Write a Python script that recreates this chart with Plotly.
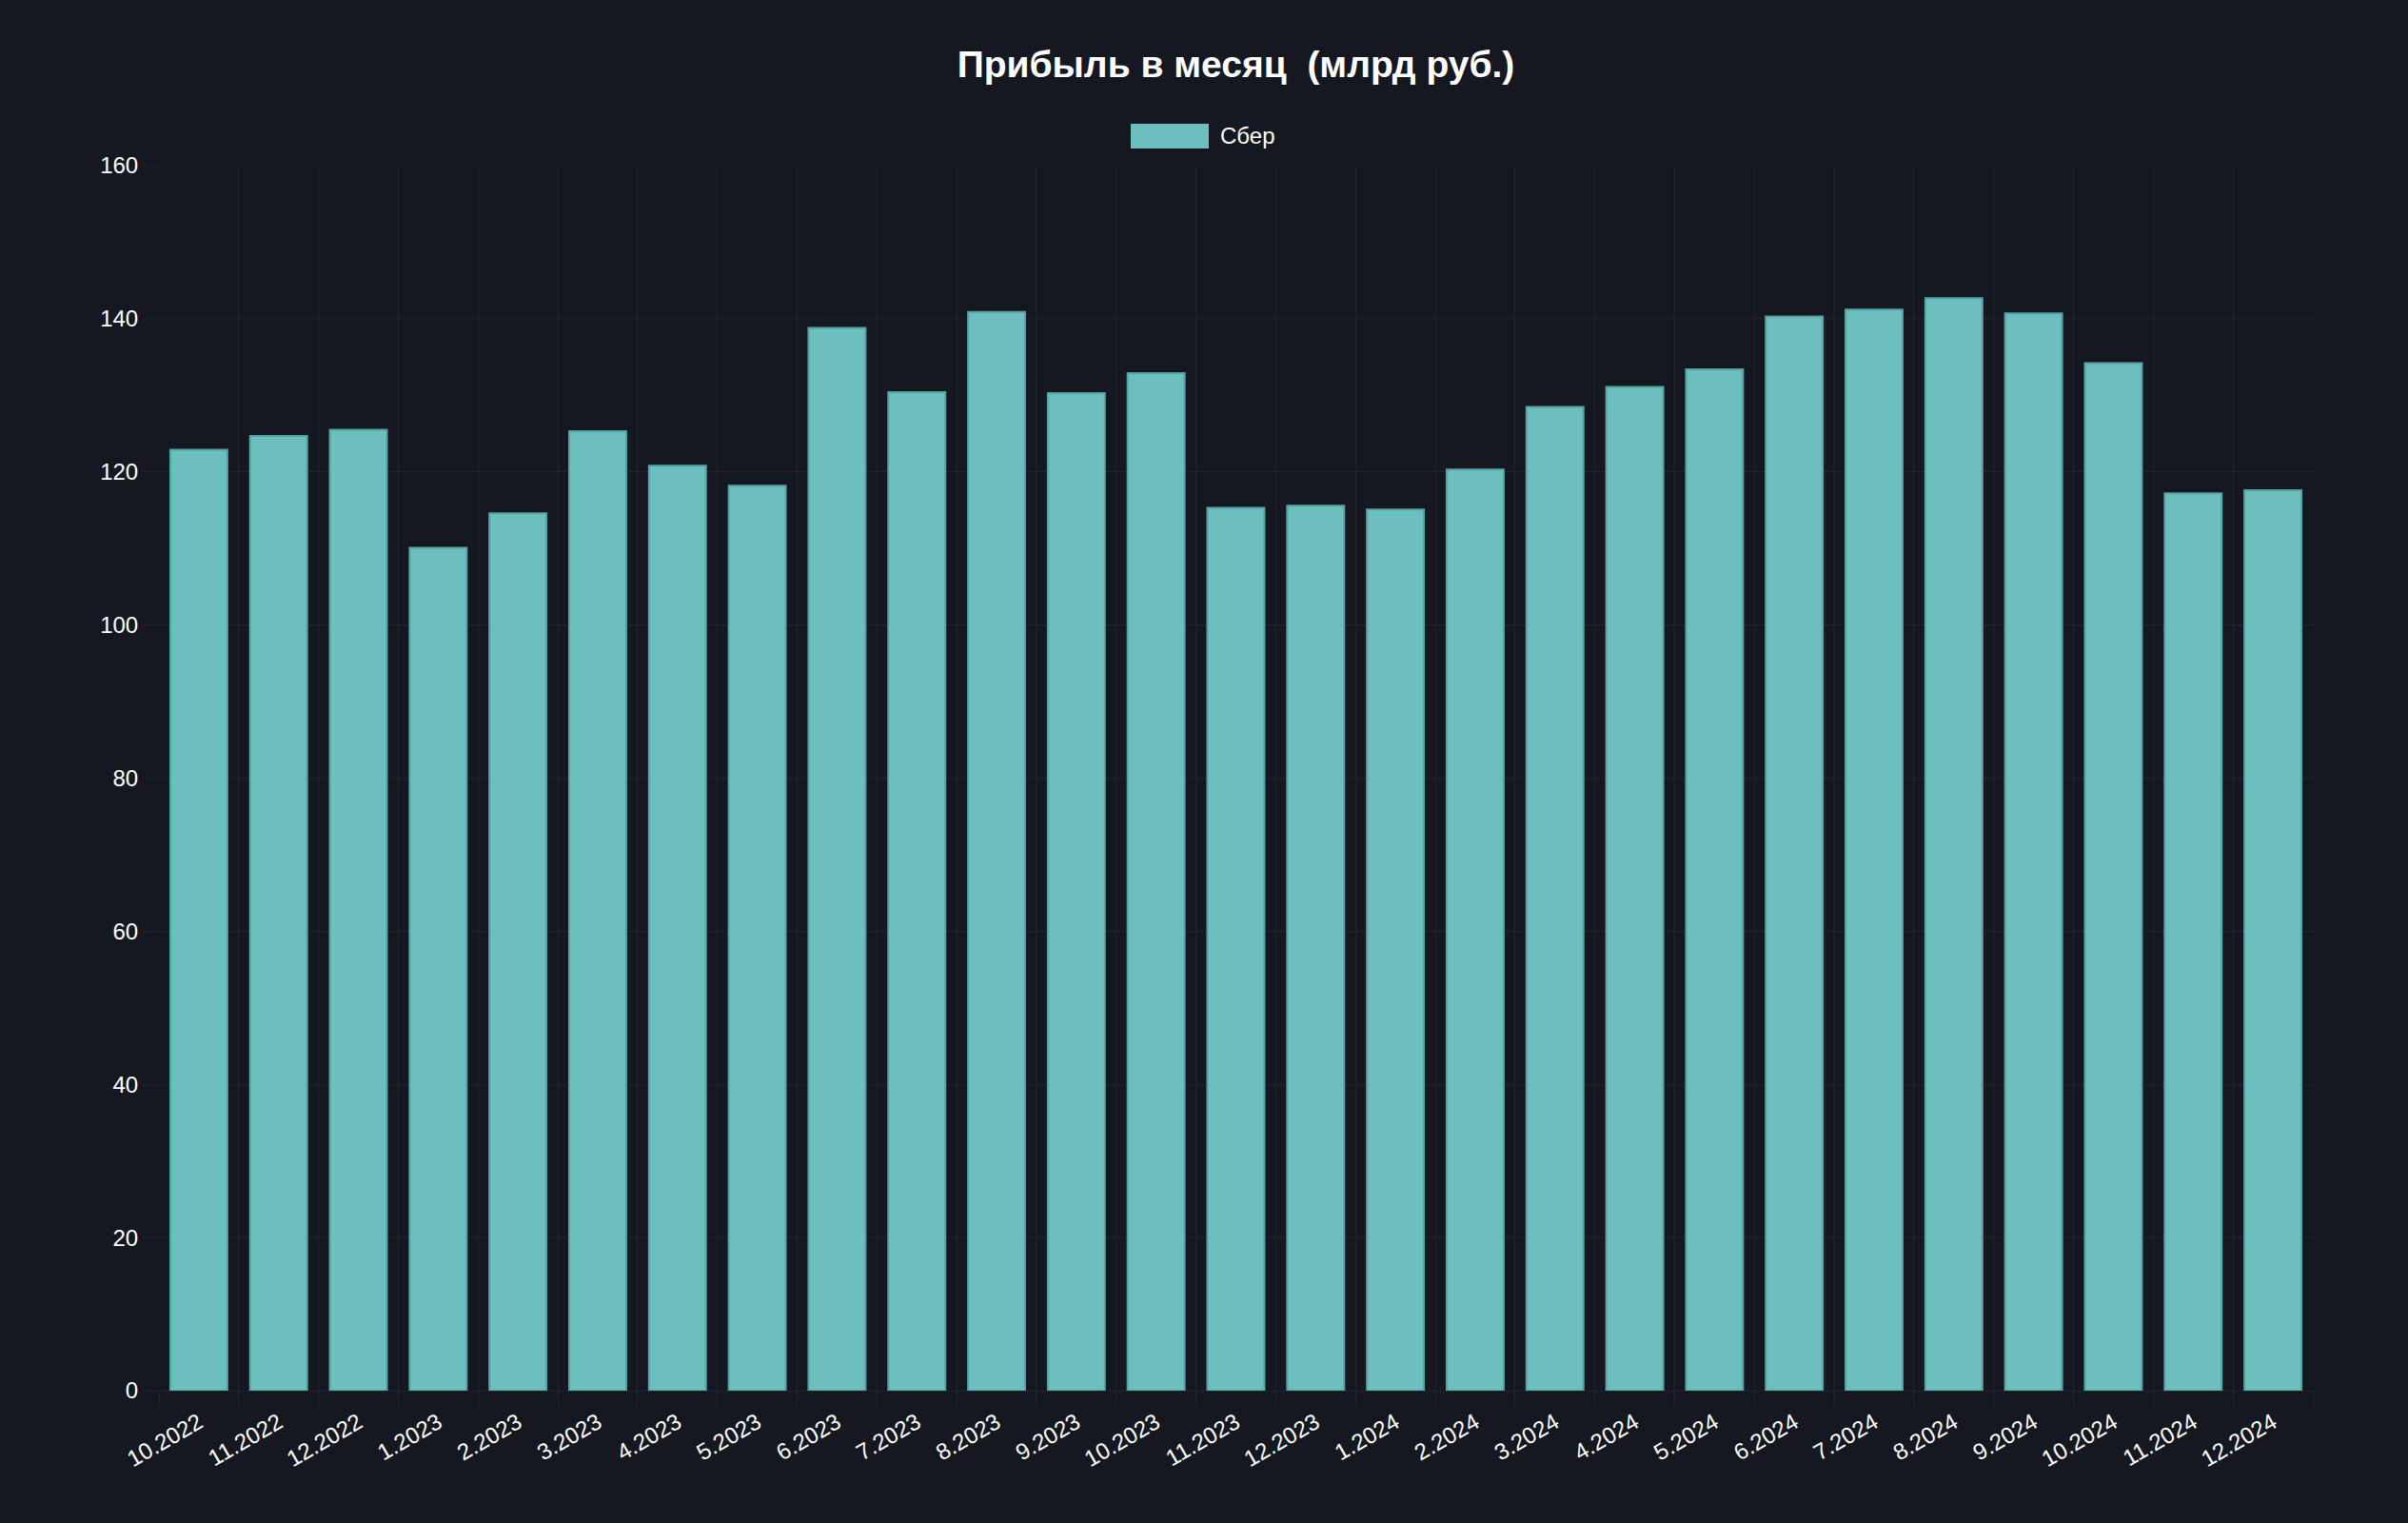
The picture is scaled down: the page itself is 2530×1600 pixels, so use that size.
import plotly.graph_objects as go

months = ["10.2022", "11.2022", "12.2022", "1.2023", "2.2023", "3.2023", "4.2023",
          "5.2023", "6.2023", "7.2023", "8.2023", "9.2023", "10.2023", "11.2023",
          "12.2023", "1.2024", "2.2024", "3.2024", "4.2024", "5.2024", "6.2024",
          "7.2024", "8.2024", "9.2024", "10.2024", "11.2024", "12.2024"]
sber_profit = [122.9, 124.7, 125.5, 110.1, 114.6, 125.3, 120.8, 118.2, 138.8, 130.4,
               140.9, 130.3, 132.9, 115.3, 115.6, 115.1, 120.3, 128.5, 131.1, 133.4,
               140.3, 141.2, 142.7, 140.7, 134.2, 117.2, 117.6]
y_ticks = [0, 20, 40, 60, 80, 100, 120, 140, 160]

title_text = "Прибыль в месяц  (млрд руб.)"
series_name = "Сбер"

BG = "#151821"
GRID = "#21242e"
BAR = "#6dbfbf"
BAR_LINE = "#57a2a3"
FONT = "Liberation Sans, Arial, Helvetica, sans-serif"

fig = go.Figure()
fig.add_trace(go.Bar(
    x=months, y=sber_profit, name=series_name,
    marker=dict(color=BAR, line=dict(color=BAR_LINE, width=2)),
    showlegend=False,
))

L, R, T, B = 167, 100, 174, 139
W, H = 2530, 1600
pw = W - L - R
ph = H - T - B

def px_x(p):
    return (p - L) / pw

def px_y(p):
    return 1 + (T - p) / ph

# custom legend (wide colour box like the reference)
fig.add_shape(type="rect", xref="paper", yref="paper",
              x0=px_x(1188), x1=px_x(1270), y0=px_y(156), y1=px_y(130),
              fillcolor=BAR, line=dict(width=0))
fig.add_annotation(xref="paper", yref="paper", x=px_x(1280), y=px_y(143),
                   text=series_name, showarrow=False, xanchor="left", yanchor="middle",
                   font=dict(size=24, color="#ffffff", family=FONT))

fig.update_layout(
    width=W, height=H,
    margin=dict(l=L, r=R, t=T, b=B, pad=0),
    paper_bgcolor=BG, plot_bgcolor=BG,
    bargap=0.285,
    font=dict(family=FONT, color="#ffffff", size=24),
    title=dict(text="<b>" + title_text + "</b>", xref="paper", x=0.5, xanchor="center",
               y=1 - 67 / H, yanchor="middle",
               font=dict(size=39, color="#ffffff", family=FONT)),
    xaxis=dict(
        type="category", tickson="boundaries", showgrid=True, gridcolor=GRID, gridwidth=1,
        ticks="outside", ticklen=16, tickcolor=GRID, tickwidth=1,
        tickangle=-30, ticklabelstandoff=14, tickfont=dict(size=24, color="#ffffff"),
        showline=False, zeroline=False,
    ),
    yaxis=dict(
        range=[0, 160], tickmode="array", tickvals=y_ticks,
        showgrid=True, gridcolor=GRID, gridwidth=1,
        ticks="outside", ticklen=16, tickcolor=GRID, tickwidth=1,
        tickfont=dict(size=24, color="#ffffff"),
        showline=False, zeroline=True, zerolinecolor=GRID, zerolinewidth=1,
    ),
)

fig.write_html(
    "out.html",
    config={"displayModeBar": False},
    post_script="document.body.style.margin='0';document.body.style.background='#151821';",
)
